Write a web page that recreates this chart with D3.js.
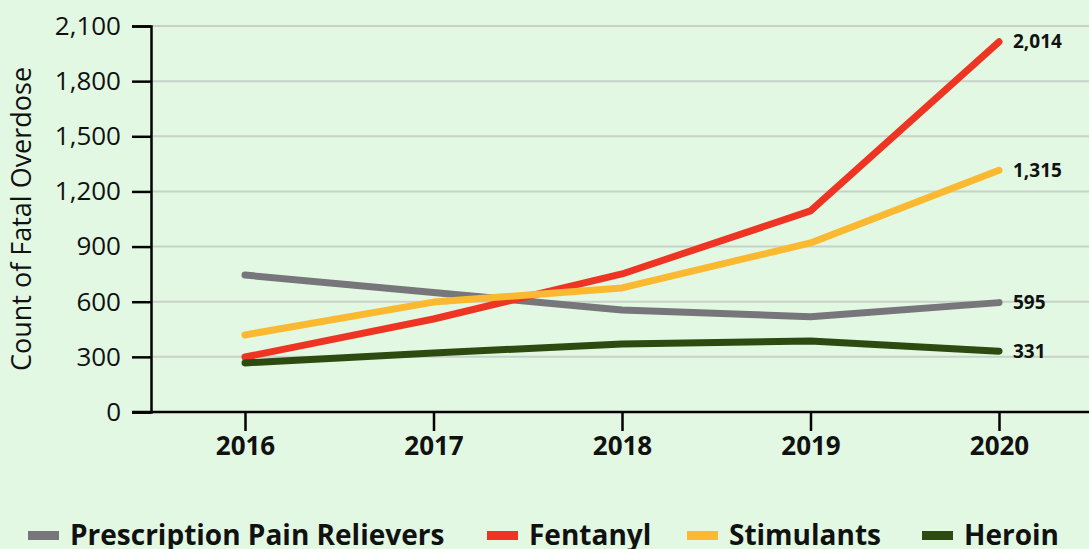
<!DOCTYPE html>
<html>
<head>
<meta charset="utf-8">
<script src="https://cdn.jsdelivr.net/npm/d3@7"></script>
<style>
  html, body { margin: 0; padding: 0; background: #e2f8e2; }
  svg { display: block; font-family: "Open Sans", sans-serif; }
</style>
</head>
<body>
<div id="chart"></div>
<script>
// chart data
var years = ["2016", "2017", "2018", "2019", "2020"];
var painRelievers = [745, 650, 555, 518, 595];
var fentanyl = [299, 506, 751, 1094, 2014];
var stimulants = [419, 598, 675, 920, 1315];
var heroin = [267, 321, 370, 386, 331];
var yTicks = [0, 300, 600, 900, 1200, 1500, 1800, 2100];

var seriesNames = ["Prescription Pain Relievers", "Fentanyl", "Stimulants", "Heroin"];
var seriesValues = [painRelievers, fentanyl, stimulants, heroin];
var seriesColors = ["#77767b", "#ee3524", "#fbb931", "#2d4a10"];

var width = 1089, height = 549;
var margin = { top: 26, right: 0, bottom: 137, left: 151 };

var svg = d3.select("#chart").append("svg")
	.attr("width", width)
	.attr("height", height);

var x = d3.scalePoint().domain(years).range([245, 999]);
var y = d3.scaleLinear().domain([0, 2100]).range([height - margin.bottom, margin.top]);

// gridlines
svg.append("g")
	.selectAll("line")
	.data(yTicks.slice(1))
	.enter().append("line")
	.attr("x1", margin.left)
	.attr("x2", width)
	.attr("y1", function (d) { return y(d); })
	.attr("y2", function (d) { return y(d); })
	.attr("stroke", "#c8d2c8")
	.attr("stroke-width", 2);

// y axis
var yAxis = svg.append("g")
	.attr("transform", "translate(" + margin.left + ",0)")
	.call(d3.axisLeft(y).tickValues(yTicks).tickSize(19).tickPadding(11).tickFormat(d3.format(",")))
	.attr("font-family", "'Open Sans', sans-serif");
yAxis.select(".domain").attr("stroke", "#000").attr("stroke-width", 2.5);
yAxis.selectAll(".tick line").attr("stroke", "#000").attr("stroke-width", 2.5);
yAxis.selectAll(".tick text")
	.attr("fill", "#111")
	.style("font-size", "26px");

// x axis
var xAxis = svg.append("g")
	.attr("transform", "translate(0," + y(0) + ")")
	.call(d3.axisBottom(x).tickSize(19).tickPadding(6))
	.attr("font-family", "'Open Sans', sans-serif");
xAxis.select(".domain").remove();
xAxis.append("line")
	.attr("x1", margin.left - 19)
	.attr("x2", width)
	.attr("stroke", "#000")
	.attr("stroke-width", 2.5);
xAxis.selectAll(".tick line").attr("stroke", "#000").attr("stroke-width", 2.5);
xAxis.selectAll(".tick text")
	.attr("fill", "#111")
	.style("font-size", "26px")
	.style("font-weight", "bold");

// y axis title
svg.append("text")
	.attr("transform", "translate(22," + ((y(0) + y(2100)) / 2) + ") rotate(-90)")
	.attr("text-anchor", "middle")
	.attr("dy", "0.35em")
	.attr("fill", "#111")
	.style("font-size", "27px")
	.text("Count of Fatal Overdose");

// lines
var line = d3.line()
	.x(function (d, i) { return x(years[i]); })
	.y(function (d) { return y(d); });

seriesValues.forEach(function (values, i) {
	svg.append("path")
		.datum(values)
		.attr("d", line)
		.attr("fill", "none")
		.attr("stroke", seriesColors[i])
		.attr("stroke-width", 7)
		.attr("stroke-linecap", "round")
		.attr("stroke-linejoin", "round");

	var last = values[values.length - 1];
	svg.append("text")
		.attr("x", x(years[years.length - 1]) + 14)
		.attr("y", y(last))
		.attr("dy", "0.35em")
		.attr("fill", "#111")
		.style("font-size", "19px")
		.style("font-weight", "bold")
		.text(d3.format(",")(last));
});

// legend
var legendX = [28, 487, 687, 922];
var legend = svg.append("g");
seriesNames.forEach(function (name, i) {
	legend.append("rect")
		.attr("x", legendX[i])
		.attr("y", 531)
		.attr("width", 31)
		.attr("height", 9)
		.attr("fill", seriesColors[i]);
	legend.append("text")
		.attr("x", legendX[i] + 42)
		.attr("y", 545)
		.attr("fill", "#111")
		.style("font-size", "28px")
		.style("font-weight", "bold")
		.text(name);
});
</script>
</body>
</html>
